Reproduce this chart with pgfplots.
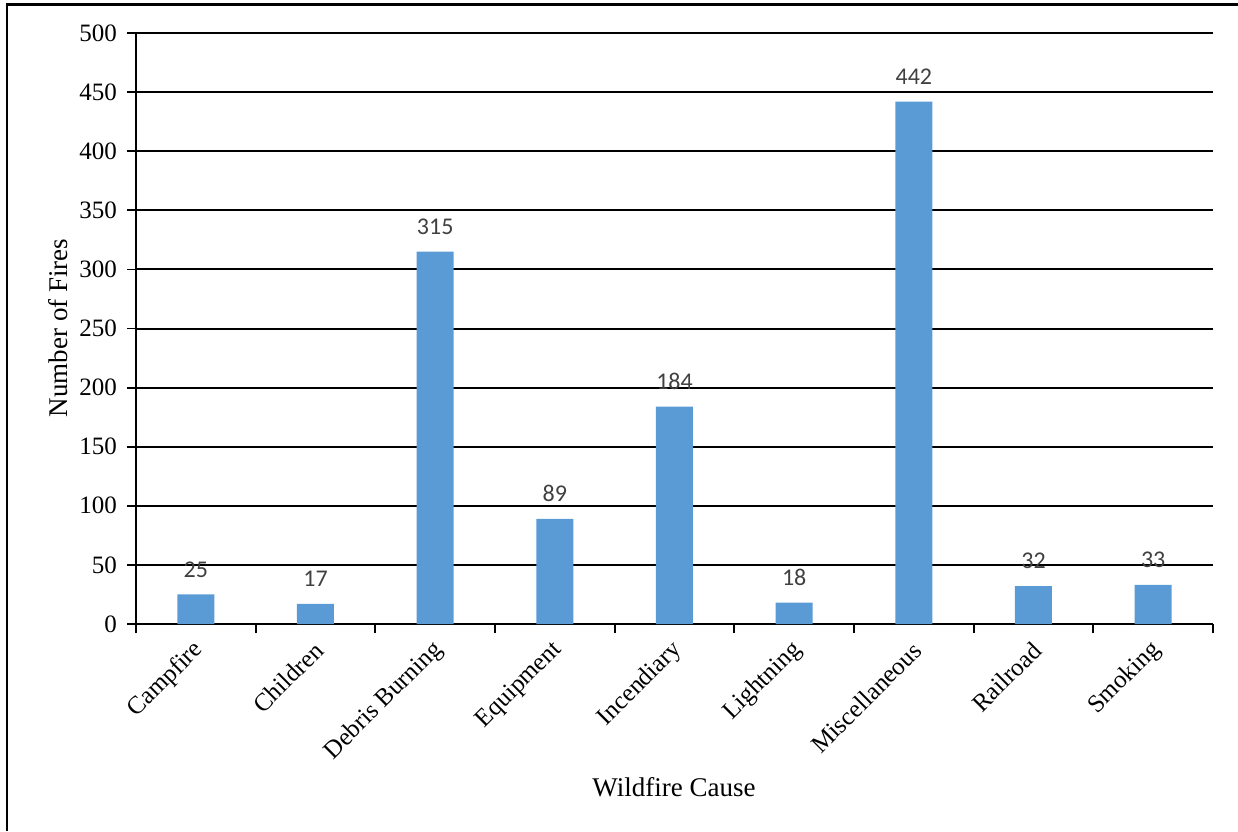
\documentclass[border=0pt]{standalone}
\usepackage{pgfplots}
\pgfplotsset{compat=1.18}
\usepackage{fontspec}
\setmainfont{Liberation Serif}
\newfontfamily\valuefont{Carlito}
\definecolor{barblue}{HTML}{5B9BD5}
\definecolor{valgray}{HTML}{404040}

\begin{document}
\begin{tikzpicture}
% page area
\useasboundingbox (0,0) rectangle (619pt,415.5pt);
% figure frame (left and top edges)
\draw[line width=1.2pt] (3.5pt,0) -- (3.5pt,413.3pt) -- (619pt,413.3pt);

\begin{axis}[
  at={(68pt,103.5pt)}, anchor=south west,
  scale only axis, width=538.5pt, height=295.5pt,
  ymin=0, ymax=500, ytick={0,50,...,500},
  xmin=-0.5, xmax=8.5,
  xtick={-0.5,0.5,...,8.5},
  x tick label as interval,
  xticklabels={Campfire,Children,Debris Burning,Equipment,Incendiary,Lightning,Miscellaneous,Railroad,Smoking},
  axis x line*=bottom, axis y line*=left,
  axis line style={line width=0.9pt, -},
  tick align=outside,
  major tick length=4.5pt,
  tick style={line width=0.9pt, black},
  ymajorgrids, grid style={line width=1pt, black},
  /pgf/number format/assume math mode=true,
  tick label style={font=\fontsize{12.5}{13}\selectfont},
  yticklabel style={xshift=-1.5pt},
  xticklabel style={rotate=45, anchor=east, xshift=0pt, yshift=-6pt},
  ybar, bar width=18.5pt,
  enlarge x limits=false,
  clip=false,
  nodes near coords,
  every node near coord/.append style={font=\valuefont\fontsize{12}{13}\selectfont, text=valgray, yshift=5pt},
]
\addplot[fill=barblue, draw=none] coordinates {
  (0,25) (1,17) (2,315) (3,89) (4,184) (5,18) (6,442) (7,32) (8,33)
};
\node[rotate=90, font=\fontsize{13.5}{14}\selectfont] at (axis description cs:-0.0724,0.501) {Number of Fires};
\node[font=\fontsize{13.5}{14}\selectfont] at (axis description cs:0.4995,-0.276) {Wildfire Cause};
\end{axis}
\end{tikzpicture}
\end{document}
